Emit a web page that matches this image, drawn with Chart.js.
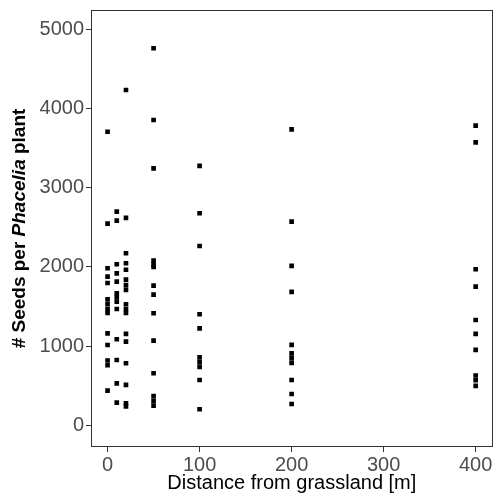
<!DOCTYPE html>
<html>
<head>
<meta charset="utf-8">
<script src="https://cdn.jsdelivr.net/npm/chart.js@4.4.0/dist/chart.umd.min.js"></script>
<style>
  html, body { margin: 0; padding: 0; background: #ffffff; }
  #wrap { width: 496px; height: 497px; }
</style>
</head>
<body>
<div id="wrap"><canvas id="c" width="496" height="497"></canvas></div>
<script>
// Distances from grassland (m)
const distances = [0, 10, 20, 50, 100, 200, 400];
// Seeds per plant at each distance
const seedsAt0   = [3707, 2546, 1984, 1878, 1798, 1592, 1530, 1470, 1420, 1163, 1015, 820, 760, 440];
const seedsAt10  = [2698, 2584, 2034, 1920, 1815, 1668, 1620, 1562, 1470, 1088, 826, 532, 288];
const seedsAt20  = [4233, 2620, 2173, 2047, 1965, 1840, 1770, 1710, 1530, 1470, 1420, 1155, 1057, 785, 511, 280, 240];
const seedsAt50  = [4760, 3855, 3245, 2080, 2030, 2000, 1765, 1650, 1416, 1070, 659, 370, 310, 250];
const seedsAt100 = [3275, 2678, 2265, 1403, 1226, 860, 800, 740, 574, 204];
const seedsAt200 = [3737, 2572, 2013, 1685, 1016, 910, 850, 790, 574, 397, 271];
const seedsAt400 = [3783, 3573, 1971, 1752, 1331, 1155, 953, 630, 570, 500];
// Tick labels
const xTicks = [0, 100, 200, 300, 400];
const yTicks = [0, 1000, 2000, 3000, 4000, 5000];

const seedGroups = [seedsAt0, seedsAt10, seedsAt20, seedsAt50, seedsAt100, seedsAt200, seedsAt400];
const points = [];
distances.forEach((d, i) => seedGroups[i].forEach(v => points.push({ x: d, y: v })));

const FONT = "Arial, 'Liberation Sans', Helvetica, sans-serif";

const frameAndTitle = {
  id: 'frameAndTitle',
  afterDraw(chart) {
    const { ctx, chartArea: a } = chart;
    ctx.save();
    ctx.strokeStyle = '#333333';
    ctx.lineWidth = 1;
    ctx.strokeRect(Math.round(a.left) + 0.5, Math.round(a.top) + 0.5,
                   Math.round(a.right - a.left) - 1, Math.round(a.bottom - a.top) - 1);
    // y-axis title with italic genus name
    const parts = [
      { t: '# Seeds per ', f: 'bold 19px ' + FONT },
      { t: 'Phacelia', f: 'italic bold 19px ' + FONT },
      { t: ' plant', f: 'bold 19px ' + FONT }
    ];
    let total = 0;
    parts.forEach(p => { ctx.font = p.f; p.w = ctx.measureText(p.t).width; total += p.w; });
    const cy = (a.top + a.bottom) / 2;
    ctx.translate(20, cy);
    ctx.rotate(-Math.PI / 2);
    ctx.fillStyle = '#000000';
    ctx.textBaseline = 'middle';
    ctx.textAlign = 'left';
    let x = -total / 2;
    parts.forEach(p => { ctx.font = p.f; ctx.fillText(p.t, x, 0); x += p.w; });
    ctx.restore();
  }
};

new Chart(document.getElementById('c'), {
  type: 'scatter',
  data: {
    datasets: [{
      data: points,
      pointStyle: 'rect',
      pointRadius: 3.3,
      pointHoverRadius: 3.3,
      backgroundColor: '#000000',
      borderWidth: 0
    }]
  },
  options: {
    responsive: false,
    animation: false,
    devicePixelRatio: 1,
    layout: { padding: { top: 10, right: 2, left: 0, bottom: 0 } },
    plugins: { legend: { display: false }, tooltip: { enabled: false } },
    scales: {
      x: {
        type: 'linear',
        min: -18,
        max: 418.5,
        afterBuildTicks: s => { s.ticks = xTicks.map(v => ({ value: v })); },
        afterFit: s => { s.height = 50; s.paddingLeft = 0; s.paddingRight = 0; },
        border: { display: false },
        grid: { display: true, drawOnChartArea: false, drawTicks: true, tickLength: 5, tickColor: '#333333', tickWidth: 1 },
        ticks: { color: '#4d4d4d', font: { family: FONT, size: 20 }, padding: 1, maxRotation: 0,
                 callback: v => String(v) },
        title: { display: true, text: 'Distance from grassland [m]', color: '#000000',
                 font: { family: FONT, size: 20 }, padding: { top: 0, bottom: 2 } }
      },
      y: {
        type: 'linear',
        min: -272,
        max: 5243,
        afterBuildTicks: s => { s.ticks = yTicks.map(v => ({ value: v })); },
        afterFit: s => { s.width = 91; s.paddingTop = 0; s.paddingBottom = 0; },
        border: { display: false },
        grid: { display: true, drawOnChartArea: false, drawTicks: true, tickLength: 5, tickColor: '#333333', tickWidth: 1 },
        ticks: { color: '#4d4d4d', font: { family: FONT, size: 20 }, padding: 2,
                 callback: v => String(v) },
        title: { display: false }
      }
    }
  },
  plugins: [frameAndTitle]
});
</script>
</body>
</html>
